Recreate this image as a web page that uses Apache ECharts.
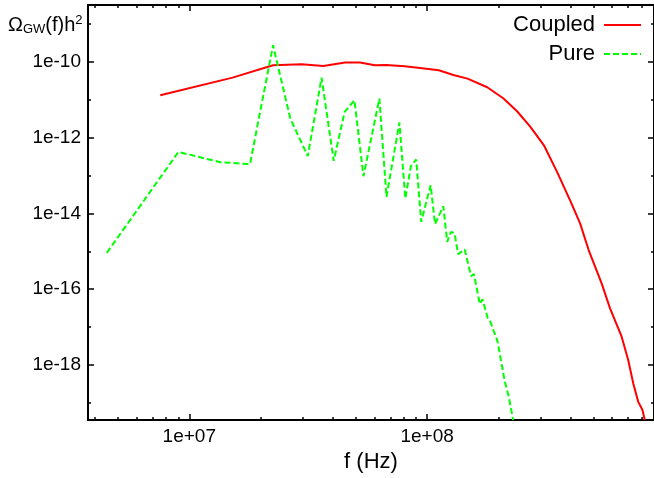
<!DOCTYPE html>
<html>
<head>
<meta charset="utf-8">
<script src="https://cdn.jsdelivr.net/npm/echarts@6.0.0/dist/echarts.min.js"></script>
<style>
  html, body { margin: 0; padding: 0; background: #fff; }
  #chart { width: 654px; height: 478px; }
</style>
</head>
<body>
<div id="chart"></div>
<script>
// f (Hz) / Omega_GW h^2
var coupledFreq = [7.55e6, 1.52e7, 2.25e7, 2.97e7, 3.66e7, 4.52e7, 5.22e7, 6.03e7, 6.73e7, 8.05e7,
    9.15e7, 1.12e8, 1.30e8, 1.48e8, 1.79e8, 2.09e8, 2.39e8, 2.72e8, 3.10e8, 3.52e8,
    3.99e8, 4.40e8, 4.78e8, 5.42e8, 5.88e8, 6.58e8, 7.01e8, 7.36e8, 7.72e8, 8.05e8, 8.23e8];
var coupledOmega = [1.32e-11, 3.87e-11, 8.18e-11, 8.7e-11, 7.84e-11, 9.64e-11, 9.64e-11, 8.18e-11, 8.33e-11, 7.7e-11,
    7.03e-11, 6.04e-11, 4.46e-11, 3.64e-11, 2.15e-11, 1.10e-11, 5.0e-12, 1.93e-12, 6.3e-13, 1.25e-13,
    2.24e-14, 5.45e-15, 1.08e-15, 1.42e-16, 3.11e-17, 5.55e-18, 1.35e-18, 3.27e-19, 1.07e-19, 6.45e-20, 3.5e-20];

var pureFreq = [4.5e6, 9.0e6, 1.35e7, 1.80e7, 2.25e7, 2.66e7, 3.15e7, 3.60e7, 4.05e7, 4.50e7,
    4.95e7, 5.40e7, 6.30e7, 6.75e7, 7.65e7, 8.10e7, 8.55e7, 9.00e7, 9.45e7, 1.035e8,
    1.08e8, 1.17e8, 1.215e8, 1.26e8, 1.305e8, 1.35e8, 1.44e8, 1.53e8, 1.575e8, 1.665e8,
    1.71e8, 1.80e8, 1.845e8, 1.98e8, 2.115e8, 2.205e8, 2.30e8];
var pureOmega = [9.1e-16, 4.2e-13, 2.26e-13, 2.0e-13, 2.76e-10, 3.2e-12, 3.25e-13, 3.87e-11, 2.44e-13, 4.8e-12,
    9.75e-12, 9.6e-14, 1.08e-11, 2.74e-14, 2.52e-12, 2.49e-14, 1.77e-13, 2.66e-13, 6.0e-15, 5.58e-14,
    5.23e-15, 1.56e-14, 1.78e-15, 3.27e-15, 3.0e-15, 8.4e-16, 1.12e-15, 2.22e-16, 2.5e-16, 4.05e-17,
    5.38e-17, 1.7e-17, 1.38e-17, 4.09e-18, 4.0e-19, 1.45e-19, 3.5e-20];

// tick positions
var xMajor = [1e7, 1e8];
var xMinor = [4e6, 5e6, 6e6, 7e6, 8e6, 9e6, 2e7, 3e7, 4e7, 5e7, 6e7, 7e7, 8e7, 9e7,
    2e8, 3e8, 4e8, 5e8, 6e8, 7e8, 8e8];
var yMajor = [1e-18, 1e-16, 1e-14, 1e-12, 1e-10];
var yMinor = [1e-19, 1e-17, 1e-15, 1e-13, 1e-11, 1e-9];

var xMin = 3.75e6, xMax = 9e8;
var yMin = 3.5e-20, yMax = 3.2e-9;

var font = '"Liberation Sans", Arial, Helvetica, sans-serif';

function zip(xs, ys) {
    return xs.map(function (x, i) { return [x, ys[i]]; });
}

function expOf(v) {
    return Math.round(Math.log(v) / Math.LN10);
}

function xFmt(v) {
    var e = expOf(v);
    return '1e' + (e < 0 ? '-' : '+') + (Math.abs(e) < 10 ? '0' : '') + Math.abs(e);
}

function yFmt(v) {
    return '1e' + expOf(v);
}

function mkAxis(pos, min, max, ticks, len, withLine, labels, fmt) {
    return {
        type: 'log',
        position: pos,
        min: min,
        max: max,
        axisLine: { show: withLine, lineStyle: { color: '#000', width: 2 } },
        axisTick: { show: true, inside: true, length: len, customValues: ticks,
            lineStyle: { color: '#000', width: 1.5 } },
        axisLabel: labels ? { show: true, customValues: labels, formatter: fmt,
            color: '#000', fontSize: 19, fontFamily: font, margin: 7 } : { show: false },
        splitLine: { show: false },
        minorTick: { show: false }
    };
}

var xAxes = [
    mkAxis('bottom', xMin, xMax, xMajor, 6, true, xMajor, xFmt),
    mkAxis('bottom', xMin, xMax, xMinor, 3, false),
    mkAxis('top', xMin, xMax, xMajor, 6, true),
    mkAxis('top', xMin, xMax, xMinor, 3, false)
];
xAxes[0].name = 'f (Hz)';
xAxes[0].nameLocation = 'middle';
xAxes[0].nameGap = 31;
xAxes[0].nameTextStyle = { color: '#000', fontSize: 22, fontFamily: font };

var yAxes = [
    mkAxis('left', yMin, yMax, yMajor, 6, true, yMajor, yFmt),
    mkAxis('left', yMin, yMax, yMinor, 3, false),
    mkAxis('right', yMin, yMax, yMajor, 6, true),
    mkAxis('right', yMin, yMax, yMinor, 3, false)
];

var chart = echarts.init(document.getElementById('chart'));

chart.setOption({
    animation: false,
    backgroundColor: '#fff',
    title: {
        text: '{o|Ω}{s|GW}{o|(f)h}{p|2}',
        left: 8,
        top: 14,
        padding: 0,
        textStyle: {
            fontFamily: font,
            fontWeight: 'normal',
            rich: {
                o: { fontSize: 20, fontFamily: font, fontWeight: 'normal', color: '#000', lineHeight: 22 },
                s: { fontSize: 13, fontFamily: font, fontWeight: 'normal', color: '#000', verticalAlign: 'bottom', lineHeight: 14 },
                p: { fontSize: 13, fontFamily: font, fontWeight: 'normal', color: '#000', verticalAlign: 'top', lineHeight: 14 }
            }
        }
    },
    legend: {
        data: ['Coupled', 'Pure'],
        orient: 'vertical',
        align: 'right',
        right: 12,
        top: 14,
        padding: 0,
        itemGap: 7,
        itemWidth: 37,
        itemHeight: 12,
        itemStyle: { opacity: 0 },
        textStyle: { fontSize: 22, fontFamily: font, color: '#000', padding: [0, 4, 0, 0] }
    },
    grid: { left: 88, top: 5, width: 570, height: 415, containLabel: false },
    xAxis: xAxes,
    yAxis: yAxes,
    series: [
        {
            name: 'Coupled',
            type: 'line',
            xAxisIndex: 0,
            yAxisIndex: 0,
            data: zip(coupledFreq, coupledOmega),
            symbol: 'none',
            lineStyle: { color: '#ff0000', width: 2 },
            itemStyle: { color: '#ff0000' }
        },
        {
            name: 'Pure',
            type: 'line',
            xAxisIndex: 0,
            yAxisIndex: 0,
            data: zip(pureFreq, pureOmega),
            symbol: 'none',
            lineStyle: { color: '#00ff00', width: 2, type: [6, 3] },
            itemStyle: { color: '#00ff00' }
        }
    ]
});
</script>
</body>
</html>
